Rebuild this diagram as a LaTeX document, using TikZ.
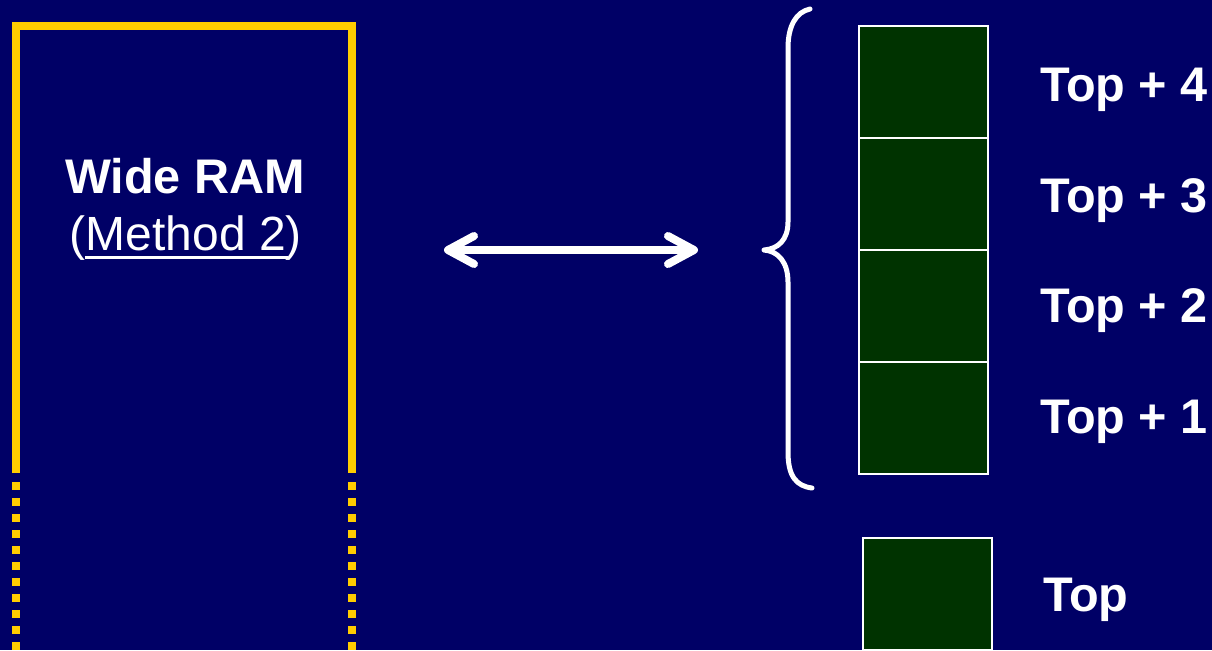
\documentclass[tikz,border=0pt]{standalone}
\usepackage{fontspec}
\setmainfont{Liberation Sans}
\usetikzlibrary{arrows.meta}
\definecolor{navybg}{HTML}{000066}
\definecolor{ramgold}{HTML}{FFCC00}
\definecolor{cellgreen}{HTML}{003300}
% underline drawn a little below the baseline, as in slide text
\newcommand\methodline[1]{\setbox0\hbox{#1}\rlap{\kern-0.5pt\rule[-4.6pt]{\dimexpr\wd0+1.5pt\relax}{1.5pt}}\box0}
\begin{document}
\begin{tikzpicture}[x=0.5pt,y=-0.5pt,
  every node/.style={inner sep=0pt,outer sep=0pt},
  txt/.style={text=white,font=\fontsize{24pt}{28pt}\selectfont},
  boldtxt/.style={txt,font=\fontsize{24.3pt}{28pt}\selectfont\bfseries},
  cell/.style={draw=white,line width=0.8pt,fill=cellgreen,
    minimum width=64.5pt,minimum height=56pt},
  ramwall/.style={draw=ramgold,line width=4pt},
  ramdots/.style={ramwall,dash pattern=on 4pt off 4pt},
  link/.style={draw=white,line width=4pt,line cap=round,
    {Straight Barb[length=13pt,width=14pt,round]}-{Straight Barb[length=13pt,width=14pt,round]}},
  bracket/.style={draw=white,line width=2.5pt,line cap=round,line join=round}]

% background
\useasboundingbox (0,0) rectangle (1212,650);
\fill[navybg] (0,0) rectangle (1212,650);

% wide RAM outline: solid part, then dotted continuation
\coordinate (ramBL) at (16,473);
\coordinate (ramTL) at (16,26);
\coordinate (ramTR) at (352,26);
\coordinate (ramBR) at (352,473);
\draw[ramwall] (ramBL) -- (ramTL) -- (ramTR) -- (ramBR);
\coordinate (dotL1) at (16,482);
\coordinate (dotL2) at (16,654);
\coordinate (dotR1) at (352,482);
\coordinate (dotR2) at (352,654);
\draw[ramdots] (dotL1) -- (dotL2);
\draw[ramdots] (dotR1) -- (dotR2);

\node[boldtxt,anchor=base] (ramtitle) at (185,193) {Wide RAM};
\node[txt,anchor=base] (ramsub) at (186,250) {(\methodline{Method 2})};

% transfer arrow
\coordinate (linkL) at (444,250);
\coordinate (linkR) at (698,250);
\draw[link] (linkL) -- (linkR);

% curly brace grouping the four cells
\coordinate (brTop) at (810,9);
\coordinate (brMid) at (764,250);
\coordinate (brBot) at (812,488);
\draw[bracket] (brTop) .. controls (796,12) and (788,26) .. (788,48)
  -- (788,222) .. controls (788,240) and (778,249) .. (brMid)
  .. controls (778,251) and (788,262) .. (788,282)
  -- (788,452) .. controls (788,476) and (796,486) .. (brBot);

% stack cells
\node[cell] (c4) at (923.5,82) {};
\node[cell] (c3) at (923.5,194) {};
\node[cell] (c2) at (923.5,306) {};
\node[cell] (c1) at (923.5,418) {};
\node[cell] (c0) at (927.5,594) {};

% cell labels
\node[boldtxt,anchor=base west] (l4) at (1040,101) {Top + 4};
\node[boldtxt,anchor=base west] (l3) at (1040,212) {Top + 3};
\node[boldtxt,anchor=base west] (l2) at (1040,322) {Top + 2};
\node[boldtxt,anchor=base west] (l1) at (1040,433) {Top + 1};
\node[boldtxt,anchor=base west] (l0) at (1043,611) {Top};
\end{tikzpicture}
\end{document}
